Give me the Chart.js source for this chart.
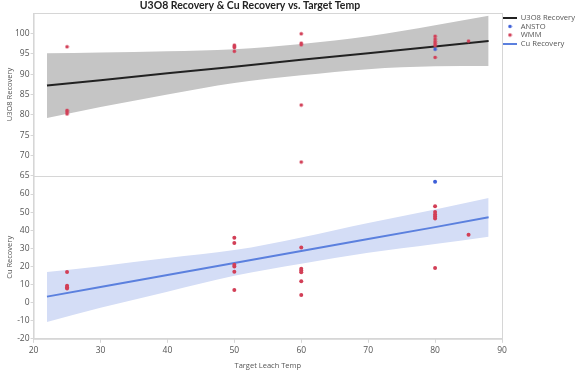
<!DOCTYPE html>
<html lang="en">
<head>
<meta charset="UTF-8"/>
<title>U3O8 Recovery &amp; Cu Recovery vs. Target Temp</title>
<script src="https://cdn.jsdelivr.net/npm/chart.js"></script>
<style>
  body { margin: 0; background: #fff; }
  .wrap { position: relative; width: 579px; height: 371px; }
</style>
</head>
<body>
<div class="wrap"><canvas id="chart"></canvas></div>
<script>
// top panel: U3O8 recovery
const wmmTempTop = [25, 25, 25, 25, 50, 50, 50, 50, 60, 60, 60, 60, 60, 80, 80, 80, 80, 80, 80, 85];
const wmmU3O8    = [96.7, 81.1, 80.7, 80.2, 97.1, 96.8, 96.5, 95.6, 99.9, 97.6, 97.2, 82.4, 68.4, 99.3, 98.6, 98.0, 97.5, 97.0, 94.1, 98.1];
const anstoTemp  = [80];
const anstoU3O8  = [96.1];
const anstoCu    = [66.8];

// bottom panel: Cu recovery
const wmmTempBot = [25, 25, 25, 25, 50, 50, 50, 50, 50, 50, 60, 60, 60, 60, 60, 60, 80, 80, 80, 80, 80, 80, 85];
const wmmCu      = [16.9, 9.3, 8.5, 7.8, 35.8, 32.9, 20.9, 20.0, 17.1, 6.9, 30.5, 18.7, 17.8, 16.7, 11.8, 4.2, 53.3, 50.0, 48.7, 47.6, 46.5, 19.1, 37.5];

const fitTemp   = [22, 30, 40, 50, 60, 70, 80, 88];
const u3o8Fit   = [87.2, 88.5, 90.2, 91.8, 93.5, 95.1, 96.8, 98.1];
const u3o8Upper = [95.1, 95.3, 95.6, 96.1, 97.4, 99.3, 102.0, 104.3];
const u3o8Lower = [79.2, 81.9, 85.0, 87.8, 89.7, 91.2, 91.9, 92.0];
const cuFit     = [3.3, 8.6, 15.3, 21.9, 28.5, 35.1, 41.7, 47.1];
const cuUpper   = [16.9, 20.1, 24.6, 29.0, 36.0, 44.0, 51.5, 57.8];
const cuLower   = [-10.7, -2.9, 6.0, 14.8, 21.5, 27.5, 32.4, 36.4];

// tick labels
const xTicks    = [20, 30, 40, 50, 60, 70, 80, 90];
const yTopTicks = [65, 70, 75, 80, 85, 90, 95, 100];
const yBotTicks = [-20, -10, 0, 10, 20, 30, 40, 50, 60];

const pts = (xs, ys) => xs.map((x, i) => ({ x: x, y: ys[i] }));

// small legend icons
function icon(kind, color) {
    const c = document.createElement('canvas');
    const g = c.getContext('2d');
    if (kind === 'line') {
        c.width = 14; c.height = 2;
        g.fillStyle = color; g.fillRect(0, 0, 14, 2);
    } else {
        c.width = 5; c.height = 5;
        g.fillStyle = color; g.beginPath(); g.arc(2.5, 2.5, 1.8, 0, Math.PI * 2); g.fill();
    }
    return c;
}

const RED = '#d23f57', BLUE = '#3d5fd8', CU = '#5b80de', GRID = '#d6d6d6', TXT = '#555';

// frame, panel divider and the chart title
const framePlugin = {
    id: 'frame',
    beforeDatasetsDraw(chart) {
        const a = chart.chartArea, ctx = chart.ctx;
        const mid = chart.scales.yTop.bottom;
        ctx.save();
        ctx.strokeStyle = GRID; ctx.lineWidth = 1;
        ctx.strokeRect(a.left + 0.5, a.top + 0.5, a.right - a.left, a.bottom - a.top);
        ctx.beginPath(); ctx.moveTo(a.left, Math.round(mid) + 0.5); ctx.lineTo(a.right, Math.round(mid) + 0.5); ctx.stroke();
        ctx.restore();
    },
    afterDraw(chart) {
        const ctx = chart.ctx;
        ctx.save();
        ctx.font = 'bold 10.5px Lato';
        ctx.fillStyle = '#222';
        ctx.textAlign = 'center'; ctx.textBaseline = 'middle';
        ctx.fillText('U3O8 Recovery & Cu Recovery vs. Target Temp', 250, 6);
        ctx.restore();
    }
};

const legendRank = { 0: 0, 1: 1, 2: 2, 3: 3 };

const lineBase = { showLine: true, pointRadius: 0, pointHoverRadius: 0, borderWidth: 2, fill: false };
const bandBase = { showLine: true, pointRadius: 0, pointHoverRadius: 0, borderWidth: 0, order: 5, cubicInterpolationMode: 'monotone' };
const dotBase = { pointRadius: 2, pointHoverRadius: 2, borderWidth: 0, order: 0 };

const yCommon = {
    type: 'linear', position: 'left', stack: 'panels', stackWeight: 1,
    border: { display: true, color: GRID },
    grid: { drawOnChartArea: false, drawTicks: true, tickLength: 3, color: GRID },
    ticks: { font: { family: 'Open Sans', size: 8.5 }, color: TXT, padding: 1, autoSkip: false }
};
const yTitleFont = { family: 'Open Sans', size: 7.5 };

new Chart(document.getElementById('chart'), {
    type: 'scatter',
    data: {
        datasets: [
            { ...lineBase, label: 'U3O8 Recovery', data: pts(fitTemp, u3o8Fit), borderColor: '#222', yAxisID: 'yTop', order: 1, pointStyle: icon('line', '#222') },
            { ...dotBase, label: 'ANSTO', data: pts(anstoTemp, anstoU3O8), backgroundColor: BLUE, yAxisID: 'yTop', pointStyle: icon('dot', BLUE) },
            { ...dotBase, label: 'WMM', data: pts(wmmTempTop, wmmU3O8), backgroundColor: RED, yAxisID: 'yTop', pointStyle: icon('dot', RED) },
            { ...lineBase, label: 'Cu Recovery', data: pts(fitTemp, cuFit), borderColor: CU, yAxisID: 'yBot', order: 1, pointStyle: icon('line', CU) },
            { ...dotBase, label: 'ANSTO Cu', data: pts(anstoTemp, anstoCu), backgroundColor: BLUE, yAxisID: 'yBot' },
            { ...dotBase, label: 'WMM Cu', data: pts(wmmTempBot, wmmCu), backgroundColor: RED, yAxisID: 'yBot' },
            { ...bandBase, label: 'u3o8 hi', data: pts(fitTemp, u3o8Upper), yAxisID: 'yTop', fill: false },
            { ...bandBase, label: 'u3o8 lo', data: pts(fitTemp, u3o8Lower), yAxisID: 'yTop', fill: '-1', backgroundColor: '#c5c5c5' },
            { ...bandBase, label: 'cu hi', data: pts(fitTemp, cuUpper), yAxisID: 'yBot', fill: false },
            { ...bandBase, label: 'cu lo', data: pts(fitTemp, cuLower), yAxisID: 'yBot', fill: '-1', backgroundColor: '#d4ddf6' }
        ]
    },
    options: {
        responsive: true,
        maintainAspectRatio: false,
        animation: false,
        layout: { padding: { top: 13, left: 1, right: 2, bottom: 0 } },
        plugins: {
            tooltip: { enabled: false },
            legend: {
                position: 'right',
                align: 'start',
                maxWidth: 75,
                labels: {
                    usePointStyle: true,
                    pointStyleWidth: 14,
                    boxHeight: 9,
                    padding: 1,
                    font: { family: 'Open Sans', size: 7.6 },
                    color: TXT,
                    filter: item => item.datasetIndex in legendRank,
                    sort: (a, b) => legendRank[a.datasetIndex] - legendRank[b.datasetIndex]
                }
            }
        },
        scales: {
            x: {
                type: 'linear', min: 20, max: 90,
                afterBuildTicks: s => { s.ticks = xTicks.map(v => ({ value: v })); },
                border: { display: true, color: GRID },
                grid: { drawOnChartArea: false, drawTicks: true, tickLength: 4, color: GRID },
                ticks: { font: { family: 'Open Sans', size: 8.5 }, color: TXT, padding: 3, autoSkip: false, maxRotation: 0 },
                title: { display: true, text: 'Target Leach Temp', font: yTitleFont, color: TXT, padding: { top: 2, bottom: 1 } }
            },
            yBot: {
                ...yCommon, min: -20, max: 70,
                afterBuildTicks: s => { s.ticks = yBotTicks.map(v => ({ value: v })); },
                title: { display: true, text: 'Cu Recovery', font: yTitleFont, color: TXT, padding: { top: 4, bottom: 0 } }
            },
            yTop: {
                ...yCommon, min: 65, max: 105,
                afterBuildTicks: s => { s.ticks = yTopTicks.map(v => ({ value: v })); },
                title: { display: true, text: 'U3O8 Recovery', font: yTitleFont, color: TXT, padding: { top: 4, bottom: 0 } }
            }
        }
    },
    plugins: [framePlugin]
});
</script>
</body>
</html>
